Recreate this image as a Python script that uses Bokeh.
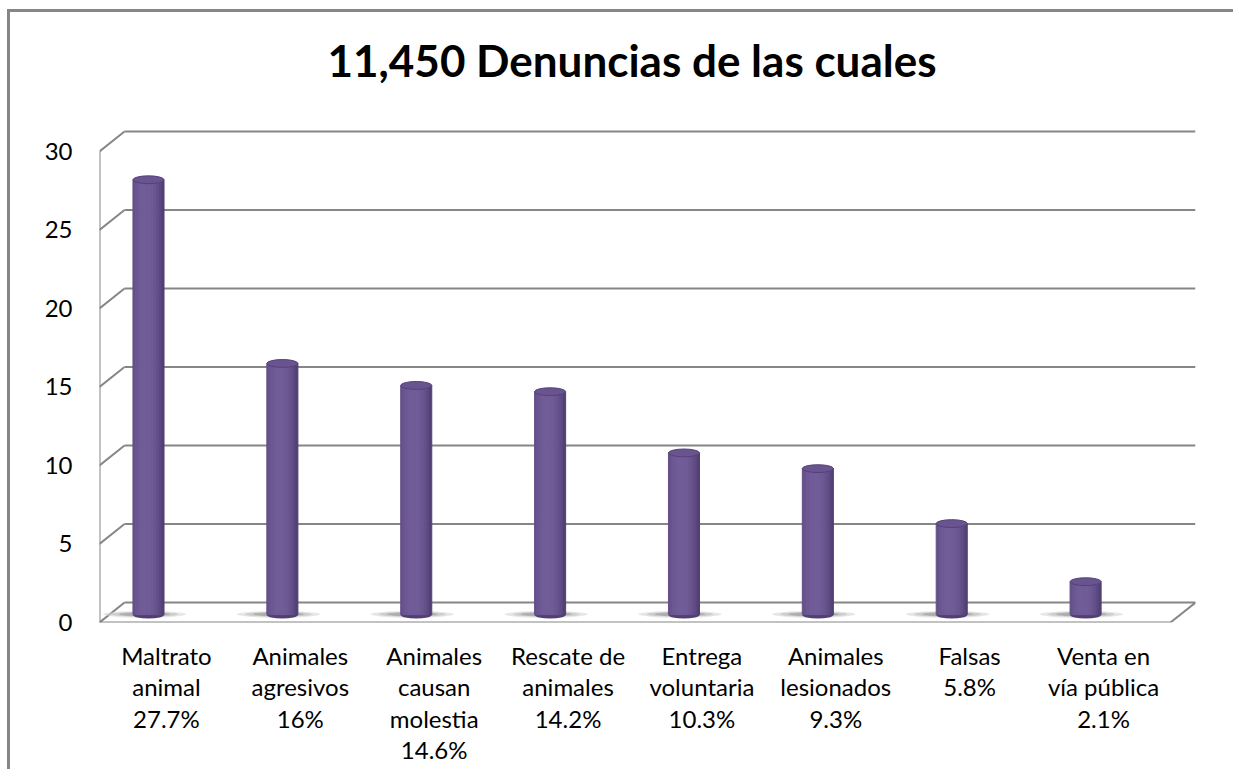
import math
from bokeh.plotting import figure
from bokeh.models import Range1d, LinearAxis, FixedTicker, ColumnDataSource, Label
from bokeh.embed import file_html
from bokeh.resources import INLINE

# ---------------- data ----------------
CATEGORIES = ["Maltrato\nanimal", "Animales\nagresivos", "Animales\ncausan\nmolestia",
              "Rescate de\nanimales", "Entrega\nvoluntaria", "Animales\nlesionados",
              "Falsas", "Venta en\nvía pública"]
VALUES = [27.7, 16, 14.6, 14.2, 10.3, 9.3, 5.8, 2.1]
Y_TICKS = [0, 5, 10, 15, 20, 25, 30]
TITLE = "11,450 Denuncias de las cuales"

# ---------------- 3D geometry (style) ----------------
N = len(CATEGORIES)
DX = 0.187      # depth offset in category units
DY = 1.274      # depth offset in value units
TOP_PAD = 6.369 # room above the back wall for the title (value units)
CX_OFF = -0.134 # cylinder centre shift
BASE = 0.5      # cylinder base height (middle depth)
CW = 0.232      # cylinder width
EH = 0.5        # ellipse height (value units)
GRID = "#868686"
FONT = "Lato"
FRAME_H = 591

p = figure(width=1226, height=760, title=None,
           x_range=Range1d(0, N + DX), y_range=Range1d(0, Y_TICKS[-1] + DY + TOP_PAD),
           output_backend="svg", toolbar_location=None, tools="",
           x_axis_type=None, y_axis_type=None,
           min_border_left=89, min_border_right=41, min_border_top=19, min_border_bottom=150)
p.grid.visible = False
p.outline_line_color = None
p.background_fill_color = "white"
p.border_fill_color = "white"
p.styles = {"border-top": "3px solid #868686", "border-left": "3px solid #868686",
            "border-right": "none", "border-bottom": "none",
            "margin-left": "7px", "margin-top": "9px"}

# title
p.add_layout(Label(x=228, y=FRAME_H - 28, x_units="screen", y_units="screen", text=TITLE,
                   text_font=FONT, text_font_style="bold", text_font_size="44px",
                   text_color="black", text_baseline="alphabetic", text_align="left"))

# axes
yaxis = LinearAxis(ticker=FixedTicker(ticks=Y_TICKS), axis_line_color=None,
                   major_tick_line_color=None, minor_tick_line_color=None,
                   major_label_text_font=FONT, major_label_text_font_size="24px",
                   major_label_text_color="black", major_label_standoff=21)
p.add_layout(yaxis, "left")

xt = [i + 0.5 for i in range(N)]
labels = {x: f"{c}\n{v:g}%" for x, c, v in zip(xt, CATEGORIES, VALUES)}
xaxis = LinearAxis(ticker=FixedTicker(ticks=xt), axis_line_color=None,
                   major_tick_line_color=None, minor_tick_line_color=None,
                   major_label_overrides=labels,
                   major_label_text_font=FONT, major_label_text_font_size="24px",
                   major_label_text_color="black", major_label_standoff=12,
                   major_label_text_line_height=1.09)
p.add_layout(xaxis, "below")

# back wall gridlines
p.segment(x0=[DX] * len(Y_TICKS), y0=[t + DY for t in Y_TICKS],
          x1=[N + DX] * len(Y_TICKS), y1=[t + DY for t in Y_TICKS],
          line_color=GRID, line_width=2)
# left side diagonals
p.segment(x0=[0] * len(Y_TICKS), y0=Y_TICKS, x1=[DX] * len(Y_TICKS),
          y1=[t + DY for t in Y_TICKS], line_color=GRID, line_width=2)
# front vertical axis line, floor front and right edges
p.segment(x0=[0, 0, N], y0=[0, 0, 0], x1=[0, N, N + DX], y1=[Y_TICKS[-1], 0, DY],
          line_color=GRID, line_width=2)

cx = [i + 0.5 + CX_OFF for i in range(N)]

# shadows (soft, mostly to the left of the base)
for w, h, col, a in [(0.62, 0.42, "#d6d6d6", 0.6), (0.5, 0.32, "#bdbdbd", 0.6),
                     (0.38, 0.24, "#9a9a9a", 0.6)]:
    p.ellipse(x=[c - 0.03 for c in cx], y=[BASE + 0.02] * N, width=w, height=h,
              fill_color=col, fill_alpha=a, line_color=None)

# bottom ellipses
p.ellipse(x=cx, y=[BASE] * N, width=CW, height=EH, fill_color="#523f72", line_color=None)

# cylinder body strips
dark = (64, 47, 96)
light = (114, 93, 153)
NS = 14
xs, ws, tops, cols = [], [], [], []
for c, v in zip(cx, VALUES):
    for k in range(NS):
        t = (k + 0.5) / NS * 2 - 1
        f = max(0.0, 1 - ((t + 0.15) / 1.2) ** 2) ** 0.6
        rgb = tuple(int(d + (l - d) * f) for d, l in zip(dark, light))
        xs.append(c - CW / 2 + (k + 0.5) * CW / NS)
        ws.append(CW / NS)
        tops.append(BASE + v)
        cols.append("#%02x%02x%02x" % rgb)
src = ColumnDataSource(dict(x=xs, w=ws, top=tops, c=cols))
p.vbar(x="x", width="w", top="top", bottom=BASE, fill_color="c", line_color="c",
       line_width=1, source=src)

# top ellipses
p.ellipse(x=cx, y=[BASE + v for v in VALUES], width=CW, height=EH,
          fill_color="#69548f", line_color="#54417a", line_width=1)

open("out.html", "w").write(file_html(p, INLINE))
